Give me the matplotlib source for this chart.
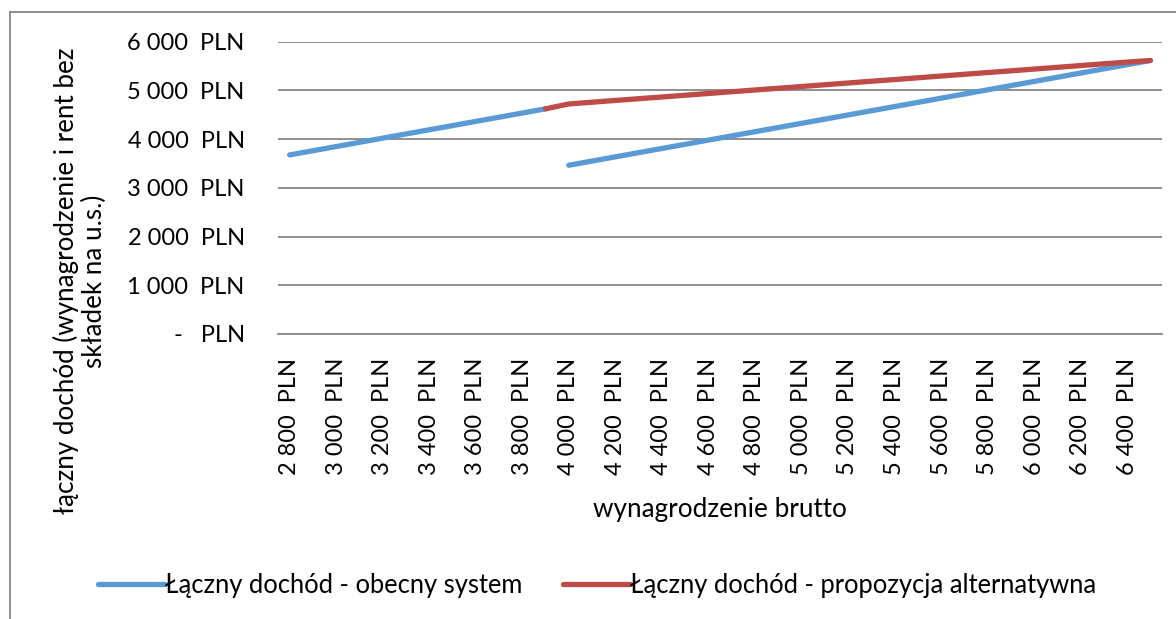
import numpy as np
import matplotlib
matplotlib.use("Agg")
import matplotlib.pyplot as plt
from matplotlib.lines import Line2D

plt.rcParams['font.family'] = ['Lato', 'DejaVu Sans']

# --- data ---
salary = list(range(2800, 6600, 100))   # gross salary categories, PLN
tick_labels = [f"{s // 1000} {s % 1000:03d}  PLN" for s in salary]

# current system: first part up to 3 900, second part from 4 000 (a drop)
current_low = [3676, 3762, 3848, 3934, 4020, 4106, 4192, 4278, 4364, 4450, 4536, 4622]
current_high = [3464, 3550, 3636, 3722, 3808, 3894, 3980, 4066, 4152, 4238, 4324, 4410,
                4496, 4582, 4668, 4754, 4840, 4926, 5012, 5098, 5184, 5270, 5356, 5442,
                5528, 5614]
# alternative proposal: from 3 900 upwards
alternative = [4622, 4722, 4758, 4794, 4830, 4865, 4901, 4937, 4973, 5009, 5044, 5080,
               5116, 5152, 5188, 5223, 5259, 5295, 5331, 5367, 5402, 5438, 5474, 5510,
               5546, 5581, 5614]

y_ticks = [0, 1000, 2000, 3000, 4000, 5000, 6000]
y_tick_labels = ["-   PLN", "1 000  PLN", "2 000  PLN", "3 000  PLN",
                 "4 000  PLN", "5 000  PLN", "6 000  PLN"]

BLUE = '#5B9BD5'
RED = '#BE4B48'
GRID = '#878787'

fig = plt.figure(figsize=(11.76, 6.19), dpi=100)
ax = fig.add_axes([278 / 1176, 1 - 334 / 619, (1162 - 278) / 1176, (334 - 41.7) / 619])

x = np.arange(len(salary))
n_low = len(current_low)
ax.plot(x[:n_low], current_low, color=BLUE, lw=3.8, solid_capstyle='round',
        label='Łączny dochód - obecny system')
ax.plot(x[n_low:], current_high, color=BLUE, lw=3.8, solid_capstyle='round')
ax.plot(x[n_low - 1:], alternative, color=RED, lw=3.8, solid_capstyle='round',
        label='Łączny dochód - propozycja alternatywna')

ax.set_xlim(-0.5, len(salary) - 0.5)
ax.set_ylim(0, 6000)
ax.set_yticks(y_ticks)
ax.set_yticklabels(y_tick_labels, fontsize=17)
ax.set_xticks(x[::2])
ax.set_xticklabels(tick_labels[::2], rotation=90, fontsize=17)
ax.tick_params(axis='y', length=0, pad=24)
ax.tick_params(axis='x', length=0, pad=17)

ax.grid(axis='y', color=GRID, lw=1.3)
ax.set_axisbelow(True)
for s in ['top', 'right', 'left']:
    ax.spines[s].set_visible(False)
ax.spines['bottom'].set_color(GRID)
ax.spines['bottom'].set_linewidth(1.3)

fig.text(720 / 1176, 1 - 510 / 619, 'wynagrodzenie brutto',
         ha='center', va='center', fontsize=18.8)
fig.text(80 / 1176, 1 - 281 / 619,
         'łączny dochód (wynagrodzenie i rent bez\nskładek na u.s.)',
         rotation=90, ha='center', va='center', fontsize=18.7, linespacing=1.15,
         multialignment='center')

# legend below the chart
handles, labels = ax.get_legend_handles_labels()
fig.legend(handles, labels, loc='center', bbox_to_anchor=(597 / 1176, 1 - 585 / 619),
           ncol=2, frameon=False, fontsize=18.4, handlelength=2.6, handletextpad=0.0,
           columnspacing=1.6)

# outer chart frame (cut off on the right and bottom)
fig.add_artist(Line2D([10 / 1176, 10 / 1176], [0, 1 - 12 / 619],
                      transform=fig.transFigure, color=GRID, lw=1.3))
fig.add_artist(Line2D([10 / 1176, 1], [1 - 12 / 619, 1 - 12 / 619],
                      transform=fig.transFigure, color=GRID, lw=1.3))

fig.savefig('out.png', dpi=100)
